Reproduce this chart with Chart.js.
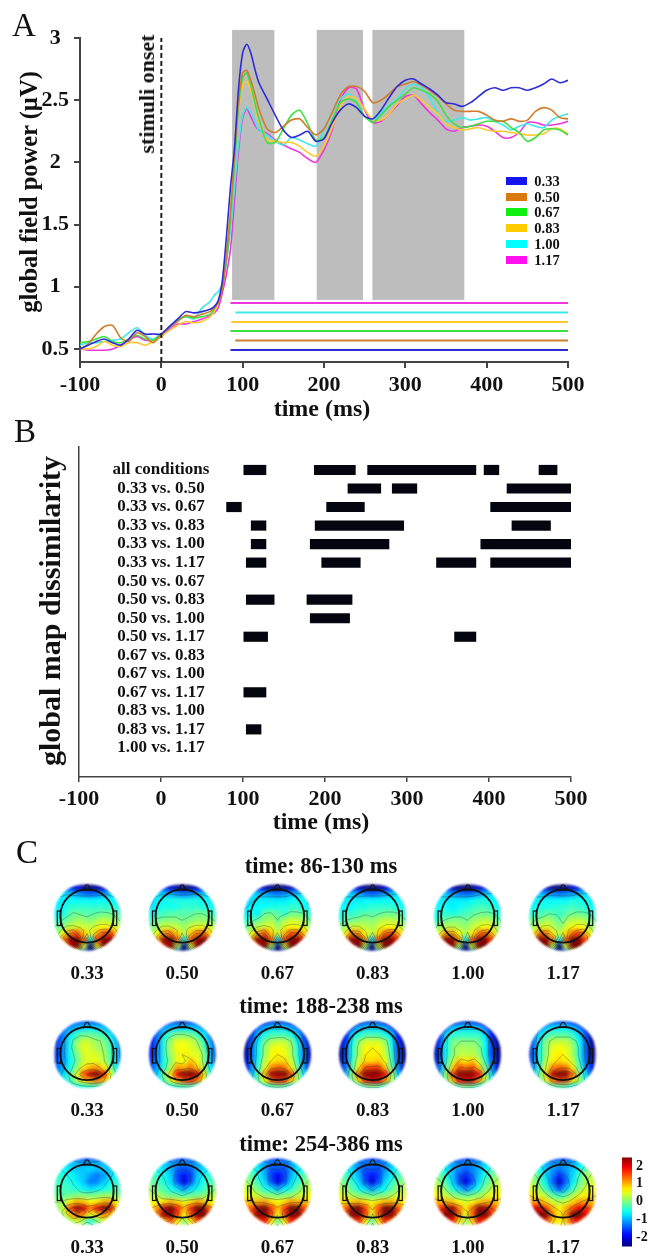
<!DOCTYPE html>
<html>
<head>
<meta charset="utf-8">
<script src="https://cdn.jsdelivr.net/npm/chart.js@4/dist/chart.umd.min.js"></script>
<style>
  html, body { margin: 0; background: #fff; }
  #page { position: relative; width: 654px; height: 1259px; overflow: hidden; font-family: "Liberation Serif", serif; color: #111; }
  #page canvas { position: absolute; }
  #topoHeat { filter: blur(2.2px); }
  .txt { position: absolute; white-space: nowrap; font-weight: bold; transform: translate(-50%, -50%); }
  .swatch { position: absolute; width: 21px; height: 8px; }
</style>
</head>
<body>
<div id="page">
  <canvas id="chartA" width="654" height="420" style="left:0;top:0"></canvas>
  <canvas id="chartB" width="654" height="420" style="left:0;top:420px"></canvas>
  <canvas id="topoHeat" width="654" height="409" style="left:0;top:850px"></canvas>
  <canvas id="topoOver" width="654" height="409" style="left:0;top:850px"></canvas>
  <canvas id="colorBar" width="44" height="114" style="left:610px;top:1145px"></canvas>
</div>
<script>
// panel A, global field power (uV)
const times = [-100,-90,-80,-70,-60,-50,-40,-30,-20,-10,0,10,20,30,40,50,60,65,70,75,80,85,90,95,100,105,110,115,120,130,140,150,160,170,180,190,200,210,220,230,240,250,260,270,280,290,300,310,320,330,340,350,360,370,380,390,400,410,420,430,440,450,460,470,480,490,500];
const gfp033 = [.5,.53,.56,.58,.55,.53,.58,.65,.62,.62,.62,.68,.74,.8,.79,.8,.82,.84,.89,1.05,1.4,1.8,2.12,2.6,2.88,2.95,2.88,2.75,2.64,2.51,2.38,2.26,2.2,2.22,2.25,2.17,2.19,2.32,2.42,2.47,2.44,2.37,2.35,2.42,2.52,2.61,2.66,2.67,2.63,2.59,2.54,2.48,2.47,2.45,2.48,2.53,2.58,2.6,2.58,2.6,2.6,2.58,2.6,2.63,2.67,2.64,2.66];
const gfp050 = [.5,.54,.62,.68,.69,.59,.56,.63,.6,.55,.62,.68,.72,.77,.76,.78,.8,.83,.87,.98,1.25,1.6,2.05,2.5,2.72,2.74,2.66,2.55,2.43,2.27,2.24,2.29,2.34,2.35,2.28,2.22,2.27,2.4,2.54,2.61,2.61,2.57,2.48,2.5,2.55,2.61,2.63,2.65,2.62,2.58,2.53,2.47,2.42,2.41,2.41,2.41,2.38,2.34,2.33,2.35,2.33,2.34,2.41,2.44,2.42,2.36,2.35];
const gfp067 = [.55,.56,.58,.6,.56,.55,.58,.61,.58,.57,.62,.68,.73,.76,.75,.76,.78,.82,.88,1.0,1.2,1.55,2.0,2.45,2.68,2.72,2.62,2.48,2.35,2.16,2.16,2.27,2.38,2.42,2.31,2.18,2.2,2.34,2.48,2.51,2.48,2.37,2.32,2.38,2.45,2.5,2.55,2.6,2.58,2.55,2.49,2.38,2.31,2.28,2.29,2.31,2.33,2.33,2.33,2.28,2.24,2.17,2.2,2.26,2.27,2.26,2.22];
const gfp083 = [.5,.5,.52,.56,.53,.52,.55,.55,.53,.56,.6,.65,.69,.72,.71,.72,.76,.8,.87,1.0,1.25,1.6,2.05,2.42,2.62,2.65,2.58,2.46,2.33,2.18,2.17,2.16,2.16,2.13,2.08,2.05,2.13,2.28,2.45,2.53,2.51,2.43,2.34,2.34,2.39,2.47,2.51,2.54,2.5,2.44,2.39,2.31,2.28,2.26,2.27,2.28,2.26,2.25,2.25,2.24,2.23,2.22,2.22,2.23,2.27,2.27,2.23];
const gfp100 = [.53,.55,.55,.56,.57,.58,.63,.67,.61,.58,.62,.68,.74,.76,.74,.83,.88,.93,.96,1.02,1.2,1.45,1.8,2.15,2.38,2.44,2.4,2.33,2.26,2.22,2.17,2.14,2.2,2.18,2.15,2.13,2.27,2.4,2.51,2.55,2.49,2.37,2.34,2.4,2.46,2.51,2.59,2.63,2.6,2.52,2.4,2.33,2.34,2.36,2.34,2.35,2.36,2.33,2.3,2.26,2.29,2.31,2.29,2.28,2.34,2.37,2.39];
const gfp117 = [.5,.49,.49,.49,.5,.53,.57,.6,.57,.57,.6,.66,.7,.7,.72,.74,.77,.79,.83,.95,1.1,1.3,1.7,2.1,2.36,2.43,2.37,2.3,2.26,2.23,2.18,2.14,2.11,2.08,2.03,2.0,2.1,2.26,2.5,2.6,2.59,2.42,2.32,2.33,2.39,2.46,2.53,2.54,2.47,2.4,2.34,2.27,2.25,2.28,2.29,2.3,2.29,2.25,2.2,2.2,2.24,2.32,2.32,2.3,2.3,2.31,2.33];
const isiLabels = ['0.33','0.50','0.67','0.83','1.00','1.17'];
const gfpSeries = [gfp033, gfp050, gfp067, gfp083, gfp100, gfp117];
const lineColors = ['#2c2cd6','#cf7d2c','#3fe03f','#ffc92e','#3fe8e8','#ee35e0'];
const legendColors = ['#1414ee','#d97a10','#10f010','#ffcc00','#00ffff','#ff10f0'];
const gfpTicks = [0.5, 1, 1.5, 2, 2.5, 3];
const sigStart = [85, 91, 85, 86, 91, 85];       // start of the significance line per condition
const sigLevel = [0.492, 0.568, 0.645, 0.717, 0.793, 0.87];
const grayWindows = [[87, 139], [191, 248], [259.5, 372.5]];

// panel B, significant intervals (ms) per comparison
const comparisons = ['all conditions','0.33 vs. 0.50','0.33 vs. 0.67','0.33 vs. 0.83','0.33 vs. 1.00','0.33 vs. 1.17','0.50 vs. 0.67','0.50 vs. 0.83','0.50 vs. 1.00','0.50 vs. 1.17','0.67 vs. 0.83','0.67 vs. 1.00','0.67 vs. 1.17','0.83 vs. 1.00','0.83 vs. 1.17','1.00 vs. 1.17'];
const intervals = [
  [[101,128],[187,237],[252,384],[394,412],[461,483]],
  [[228,268],[282,312],[422,501]],
  [[80,98],[202,248],[402,501]],
  [[110,128],[188,296],[428,475]],
  [[110,128],[182,278],[390,501]],
  [[104,128],[196,243],[336,384],[402,501]],
  [],
  [[104,138],[178,233]],
  [[182,230]],
  [[101,130],[358,384]],
  [],
  [],
  [[101,128]],
  [],
  [[104,122]],
  []
];

// panel C, scalp maps on an 11x11 grid, values in 0.1 uV
const windowTitles = ['time: 86-130 ms', 'time: 188-238 ms', 'time: 254-386 ms'];
const maps86 = [
  [[-12,-14,-16,-20,-24,-26,-24,-20,-16,-14,-12],[-7,-8,-9,-11,-13,-14,-13,-11,-9,-8,-7],[-7,-7,-6,-6,-6,-6,-6,-6,-6,-7,-7],[-7,-6,-4,-4,-4,-4,-4,-4,-4,-5,-6],[-7,-5,-2,-1,-2,-2,-2,-1,-1,-2,-4],[-4,-2,0,2,1,0,2,3,2,1,-2],[-2,1,4,4,4,3,5,6,6,4,1],[1,6,13,15,9,5,10,15,16,9,4],[3,14,29,33,15,-6,17,34,33,16,5],[-1,7,20,26,4,-28,6,26,28,14,3],[-3,-1,3,4,-14,-30,-14,4,5,3,-1]],
  [[-12,-14,-16,-20,-24,-26,-24,-20,-16,-14,-12],[-8,-8,-9,-10,-12,-13,-12,-10,-9,-8,-8],[-8,-7,-6,-5,-5,-5,-5,-5,-6,-7,-8],[-8,-6,-5,-6,-5,-4,-4,-4,-5,-6,-7],[-7,-4,-3,-2,-2,-2,-2,-1,-1,-2,-5],[-4,-1,0,0,0,-1,0,1,1,0,-2],[-1,2,4,4,3,1,4,5,5,4,1],[1,6,12,13,8,3,9,13,14,8,4],[2,12,27,31,14,-6,15,30,32,15,4],[-1,6,18,24,2,-28,4,24,26,12,3],[-3,-1,3,4,-14,-30,-14,4,4,3,-1]],
  [[-12,-15,-18,-21,-25,-27,-25,-21,-18,-15,-12],[-8,-8,-9,-10,-12,-13,-12,-10,-9,-8,-8],[-9,-8,-7,-7,-7,-7,-7,-6,-5,-6,-8],[-8,-7,-6,-6,-5,-5,-5,-4,-4,-6,-8],[-7,-5,-7,-1,-1,-2,-4,-1,-1,-2,-5],[-4,-3,-1,1,2,-1,2,4,3,2,-2],[-2,1,3,4,5,1,5,6,6,5,1],[0,5,11,15,9,4,10,15,15,9,4],[1,12,27,32,14,-8,16,32,33,16,4],[-2,5,18,26,2,-30,4,26,28,14,3],[-4,-2,1,2,-16,-32,-16,2,3,2,-2]],
  [[-12,-14,-17,-21,-25,-27,-25,-21,-17,-14,-12],[-8,-8,-9,-11,-13,-14,-13,-11,-9,-8,-8],[-8,-7,-7,-7,-6,-6,-6,-6,-6,-6,-7],[-7,-6,-6,-5,-5,-4,-4,-4,-4,-5,-6],[-6,-4,-4,-3,-2,-2,-2,-1,-1,-2,-4],[-4,-2,-1,0,1,0,2,3,3,2,-2],[-1,2,4,4,3,2,4,6,6,5,2],[1,6,13,12,6,3,8,14,16,10,5],[3,14,28,31,12,-8,15,33,35,17,5],[0,8,21,26,2,-30,4,28,30,15,4],[-2,-1,4,5,-14,-32,-14,5,6,4,-1]],
  [[-11,-14,-17,-21,-25,-27,-25,-21,-17,-14,-11],[-7,-8,-9,-11,-13,-14,-13,-11,-9,-8,-7],[-7,-7,-7,-7,-7,-7,-6,-5,-5,-6,-7],[-7,-6,-6,-7,-6,-5,-4,-3,-3,-4,-6],[-6,-5,-4,-5,-4,-3,-2,-1,-1,-2,-5],[-4,-3,-1,0,0,-1,1,2,3,2,-2],[-2,1,3,3,2,1,3,5,6,5,1],[0,5,11,11,6,2,7,13,15,9,3],[2,13,27,30,12,-6,15,32,33,16,4],[-1,7,19,25,2,-28,4,26,28,14,3],[-3,-1,3,4,-14,-30,-14,4,5,3,-1]],
  [[-12,-14,-17,-21,-25,-27,-25,-21,-17,-14,-12],[-8,-8,-9,-11,-12,-13,-12,-11,-9,-8,-8],[-8,-7,-7,-6,-6,-6,-6,-5,-5,-6,-7],[-7,-6,-5,-5,-5,-4,-4,-3,-4,-5,-6],[-6,-4,-3,-2,-2,-4,-2,-1,-1,-2,-5],[-3,-1,0,2,1,-2,1,3,3,2,-2],[-1,2,4,5,3,0,4,6,6,5,1],[1,6,13,13,7,3,8,14,16,9,4],[3,14,28,31,13,-6,15,32,34,16,4],[-1,7,20,25,3,-28,4,25,28,14,3],[-3,-1,3,4,-14,-30,-14,4,5,3,-1]]
];
const maps188 = [
  [[-16,-16,-15,-14,-14,-14,-14,-14,-15,-16,-16],[-16,-13,-11,-9,-8,-7,-8,-9,-11,-13,-16],[-16,-12,-7,-3,-1,-1,-2,-3,-7,-12,-16],[-16,-11,-5,1,4,3,1,0,-4,-10,-16],[-16,-11,-5,2,5,4,2,1,-3,-9,-15],[-16,-11,-5,0,4,5,4,2,-2,-9,-15],[-15,-11,-6,-1,4,5,5,3,-2,-9,-14],[-13,-10,-5,1,7,10,11,7,1,-7,-12],[-11,-8,-2,5,15,21,25,18,6,-5,-10],[-9,-7,-3,3,8,11,13,10,4,-4,-8],[-10,-10,-8,-6,-5,-4,-4,-5,-7,-9,-10]],
  [[-17,-17,-16,-15,-15,-15,-15,-15,-16,-17,-17],[-18,-14,-11,-9,-8,-8,-8,-9,-11,-14,-18],[-18,-13,-6,-2,0,0,-1,-3,-7,-13,-18],[-18,-12,-4,2,5,5,4,1,-4,-11,-17],[-18,-12,-4,3,6,6,5,3,-2,-10,-16],[-18,-12,-4,2,5,7,5,5,0,-9,-16],[-17,-11,-5,1,6,5,9,6,0,-9,-15],[-15,-10,-4,3,11,10,13,9,2,-7,-13],[-13,-8,0,8,19,26,28,21,8,-5,-11],[-10,-7,-2,5,11,15,17,13,5,-4,-9],[-11,-10,-8,-6,-4,-3,-3,-5,-7,-10,-11]],
  [[-22,-21,-19,-17,-15,-15,-15,-17,-19,-21,-22],[-24,-18,-13,-10,-8,-8,-8,-10,-13,-18,-24],[-25,-16,-9,-5,-3,-3,-3,-5,-9,-16,-25],[-25,-15,-7,-1,2,3,3,0,-7,-15,-25],[-25,-14,-6,1,5,6,5,2,-5,-14,-24],[-24,-14,-6,1,6,7,6,2,-5,-14,-24],[-22,-13,-5,3,7,8,8,4,-4,-13,-22],[-19,-12,-4,5,12,14,13,7,-2,-11,-19],[-16,-10,-1,10,23,28,27,15,1,-8,-15],[-12,-8,-2,6,14,17,16,9,2,-6,-11],[-13,-11,-8,-6,-3,-2,-3,-6,-8,-11,-13]],
  [[-25,-23,-20,-17,-15,-15,-15,-17,-20,-23,-25],[-26,-20,-14,-10,-8,-8,-8,-10,-14,-20,-26],[-27,-18,-8,-5,-3,-3,-3,-5,-8,-18,-27],[-27,-17,-6,0,4,4,4,1,-6,-17,-27],[-27,-16,-5,2,6,7,6,3,-5,-16,-27],[-26,-16,-5,2,7,7,7,4,-4,-15,-26],[-24,-15,-4,4,8,8,9,6,-3,-14,-24],[-21,-13,-3,7,15,16,16,9,-1,-12,-21],[-18,-11,1,14,27,31,30,19,3,-9,-17],[-14,-9,-1,8,17,21,20,12,3,-7,-13],[-15,-12,-8,-5,-2,-1,-2,-5,-8,-12,-15]],
  [[-25,-23,-20,-17,-15,-15,-15,-17,-20,-23,-25],[-26,-20,-13,-9,-8,-8,-8,-9,-13,-20,-26],[-27,-18,-8,-4,-4,-4,-4,-4,-8,-18,-27],[-27,-17,-6,-1,0,0,0,-1,-6,-17,-27],[-27,-16,-6,0,2,2,2,0,-6,-16,-27],[-26,-16,-6,0,3,3,3,1,-6,-16,-26],[-24,-15,-5,3,9,7,9,4,-4,-14,-24],[-21,-13,-3,8,15,13,15,9,-1,-12,-21],[-18,-11,1,15,27,30,29,19,3,-9,-17],[-14,-9,-1,9,18,21,20,12,3,-7,-13],[-15,-12,-8,-5,-2,-1,-2,-5,-8,-12,-15]],
  [[-21,-20,-18,-16,-14,-14,-14,-16,-18,-20,-21],[-23,-17,-12,-9,-7,-7,-7,-9,-12,-17,-23],[-24,-15,-8,-4,-2,-2,-2,-4,-8,-15,-24],[-24,-14,-6,0,3,3,3,0,-6,-14,-24],[-24,-14,-5,1,5,6,5,2,-5,-14,-24],[-23,-14,-5,1,6,7,6,2,-5,-14,-23],[-21,-13,-5,3,7,8,7,4,-4,-13,-21],[-19,-12,-4,5,12,14,13,7,-2,-11,-18],[-16,-10,-1,9,22,28,27,14,1,-8,-15],[-12,-8,-2,5,13,16,15,8,2,-6,-11],[-13,-11,-8,-6,-3,-2,-3,-6,-8,-11,-13]]
];
const maps254 = [
  [[-10,-12,-14,-16,-18,-19,-18,-16,-14,-12,-10],[-7,-8,-9,-10,-11,-10,-11,-10,-9,-8,-7],[-6,-6,-8,-9,-9,-8,-9,-9,-9,-7,-6],[-4,-5,-6,-8,-9,-11,-13,-11,-8,-6,-4],[-3,-4,-5,-7,-9,-13,-12,-9,-6,-4,-3],[-2,-3,-4,-5,-7,-8,-7,-6,-4,-3,-2],[-1,-2,-1,0,0,-1,0,1,1,0,-1],[1,2,7,10,9,6,7,10,11,6,1],[1,4,16,24,21,13,19,27,22,9,2],[0,3,9,14,11,5,8,12,10,5,0],[-2,0,2,4,1,-5,0,4,3,0,-2]],
  [[-9,-12,-14,-16,-18,-18,-18,-16,-14,-12,-9],[-6,-8,-9,-11,-12,-12,-12,-11,-9,-8,-6],[-5,-6,-8,-10,-14,-15,-14,-10,-8,-6,-5],[-3,-4,-6,-9,-16,-18,-16,-9,-6,-4,-3],[-1,-3,-5,-8,-15,-21,-15,-8,-5,-3,-1],[1,-1,-3,-6,-8,-12,-8,-6,-3,-1,1],[3,2,0,-1,-2,-3,-2,-1,0,2,3],[6,6,8,10,8,5,8,11,9,6,5],[8,12,21,26,17,10,17,27,23,13,8],[8,14,24,27,16,6,15,29,28,15,7],[4,8,11,14,7,0,7,15,13,8,4]],
  [[-8,-11,-14,-16,-18,-18,-18,-16,-14,-11,-8],[-4,-7,-9,-11,-13,-12,-13,-11,-9,-7,-4],[-2,-4,-7,-11,-15,-15,-15,-11,-7,-4,-2],[0,-2,-6,-10,-16,-19,-16,-10,-6,-2,0],[2,0,-4,-8,-15,-21,-15,-8,-4,0,2],[4,2,-1,-5,-7,-11,-7,-5,-1,2,4],[6,5,3,1,0,-1,0,1,3,5,6],[9,9,10,11,8,6,8,11,10,9,8],[11,15,23,27,16,9,16,28,25,15,10],[11,16,27,30,16,5,16,32,30,16,10],[6,10,15,18,7,-1,7,18,15,10,6]],
  [[-9,-12,-15,-17,-19,-19,-19,-17,-15,-12,-9],[-5,-8,-10,-12,-13,-12,-13,-12,-10,-8,-5],[-3,-5,-8,-12,-15,-15,-15,-12,-8,-5,-3],[-1,-3,-7,-10,-16,-18,-16,-10,-7,-3,-1],[1,-1,-4,-8,-15,-21,-15,-8,-4,-1,1],[3,1,-2,-6,-8,-12,-8,-6,-2,1,3],[5,4,2,0,-1,-2,-1,0,2,4,5],[8,8,9,10,8,5,8,10,10,8,7],[10,14,23,26,16,8,15,27,25,15,9],[10,15,26,29,16,4,15,31,29,15,9],[5,9,14,17,7,-2,7,17,14,9,5]],
  [[-7,-10,-13,-16,-18,-18,-18,-16,-13,-10,-7],[-3,-6,-9,-11,-13,-12,-13,-11,-9,-6,-3],[-1,-3,-7,-10,-12,-14,-12,-10,-7,-3,-1],[1,-1,-5,-9,-15,-17,-14,-9,-5,-1,1],[3,1,-3,-8,-15,-21,-15,-8,-3,1,3],[5,3,0,-5,-9,-13,-9,-5,0,3,5],[7,6,3,1,-1,-2,-1,1,3,6,7],[10,10,10,9,6,4,6,9,10,10,9],[12,16,22,23,13,7,13,24,23,16,11],[12,17,27,28,14,5,14,29,28,16,11],[7,11,16,18,8,1,8,18,15,11,7]],
  [[-8,-11,-14,-16,-18,-18,-18,-16,-14,-11,-8],[-2,-5,-8,-11,-12,-11,-12,-11,-8,-5,-2],[1,-2,-6,-9,-11,-13,-11,-9,-6,-2,1],[3,1,-3,-8,-13,-17,-13,-8,-3,1,3],[4,2,-2,-7,-14,-21,-14,-7,-2,2,4],[6,4,1,-4,-10,-15,-10,-4,1,4,6],[8,7,5,2,-2,-4,-2,2,5,7,8],[11,11,11,8,4,2,4,8,11,11,10],[13,19,21,16,10,6,10,15,20,18,12],[13,20,29,25,12,7,12,25,28,19,12],[8,13,19,16,9,6,9,16,18,12,8]]
];
const contourLevels = [-1.4, -0.7, 0, 0.7, 1.4, 2.1];
const barTicks = [-2, -1, 0, 1, 2];
const barRange = [-2.53, 2.48];

const topoWindows = [maps86, maps188, maps254];
const page = document.getElementById('page');
const axisColor = '#444';
const boldFont = size => ({ family: '"Liberation Serif", serif', weight: 'bold', size: size });

function addText(text, x, y, size, rotate, weight) {
  const el = document.createElement('div');
  el.className = 'txt';
  el.textContent = text;
  el.style.left = x + 'px';
  el.style.top = y + 'px';
  el.style.fontSize = size + 'px';
  if (weight) el.style.fontWeight = weight;
  if (rotate) el.style.transform = 'translate(-50%, -50%) rotate(' + rotate + 'deg)';
  page.appendChild(el);
}

function clamp01(v) { return Math.max(0, Math.min(1, v)); }
function jet(v) {
  const t = clamp01((v + 2.5) / 5);
  const r = clamp01(1.5 - Math.abs(4 * t - 3));
  const g = clamp01(1.5 - Math.abs(4 * t - 2));
  const b = clamp01(1.5 - Math.abs(4 * t - 1));
  return `rgb(${Math.round(r * 255)},${Math.round(g * 255)},${Math.round(b * 255)})`;
}

// ---- panel A
const grayBands = {
  id: 'grayBands',
  beforeDatasetsDraw(chart) {
    const { ctx, scales: { x, y } } = chart;
    ctx.save();
    ctx.fillStyle = '#bdbdbd';
    grayWindows.forEach(([a, b]) => {
      const top = y.getPixelForValue(3.065);
      ctx.fillRect(x.getPixelForValue(a), top, x.getPixelForValue(b) - x.getPixelForValue(a), y.getPixelForValue(0.894) - top);
    });
    ctx.restore();
  }
};

const gfpDatasets = gfpSeries.map((values, i) => ({
  label: isiLabels[i],
  data: values.map((v, k) => ({ x: times[k], y: v })),
  borderColor: lineColors[i],
  borderWidth: 1.6,
  pointRadius: 0,
  tension: 0.25
}));
const sigDatasets = sigLevel.map((v, i) => ({
  data: [{ x: sigStart[i], y: v }, { x: 500, y: v }],
  borderColor: lineColors[i],
  borderWidth: 2,
  pointRadius: 0
}));
const onsetDataset = {
  data: [{ x: 0, y: 0.395 }, { x: 0, y: 3 }],
  borderColor: '#222',
  borderWidth: 2,
  borderDash: [5, 3],
  pointRadius: 0
};

new Chart(document.getElementById('chartA'), {
  type: 'line',
  data: { datasets: [onsetDataset, ...gfpDatasets, ...sigDatasets] },
  plugins: [grayBands],
  options: {
    responsive: false,
    animation: false,
    layout: { padding: { top: 38, right: 86, left: 0, bottom: 0 } },
    plugins: { legend: { display: false }, tooltip: { enabled: false } },
    scales: {
      x: {
        type: 'linear', min: -100, max: 500,
        afterFit: s => { s.height = 58; },
        border: { color: axisColor, width: 2 },
        grid: { drawOnChartArea: false, color: axisColor, lineWidth: 2, tickLength: 6 },
        ticks: { stepSize: 100, color: '#111', font: boldFont(22), padding: 4, maxRotation: 0 }
      },
      y: {
        min: 0.395, max: 3,
        afterFit: s => { s.width = 80; },
        afterBuildTicks: s => { s.ticks = gfpTicks.map(v => ({ value: v })); },
        border: { color: axisColor, width: 2 },
        grid: { drawOnChartArea: false, color: axisColor, lineWidth: 2, tickLength: 6 },
        ticks: { color: '#111', font: boldFont(22), padding: 5, crossAlign: 'center', callback: v => String(v) }
      }
    }
  }
});

addText('A', 24, 25, 33, 0, 'normal');
addText('global field power (\u00b5V)', 29, 192, 24.5, -90);
addText('stimuli onset', 147, 94, 22, -90);
addText('time (ms)', 322, 408, 24);
isiLabels.forEach((label, i) => {
  const y = 181 + i * 15.7;
  const sw = document.createElement('div');
  sw.className = 'swatch';
  sw.style.left = '506px';
  sw.style.top = (y - 4) + 'px';
  sw.style.background = legendColors[i];
  page.appendChild(sw);
  addText(label, 547, y, 14.5);
});

// ---- panel B
const rowLabels = {
  id: 'rowLabels',
  afterDatasetsDraw(chart) {
    const { ctx, scales: { x, y } } = chart;
    ctx.save();
    ctx.font = 'bold 17px "Liberation Serif", serif';
    ctx.fillStyle = '#111';
    ctx.textAlign = 'center';
    ctx.textBaseline = 'middle';
    comparisons.forEach((label, i) => ctx.fillText(label, x.getPixelForValue(0), y.getPixelForValue(i)));
    ctx.restore();
  }
};

new Chart(document.getElementById('chartB'), {
  type: 'bar',
  data: {
    datasets: [{
      data: intervals.flatMap((row, i) => row.map(span => ({ x: span, y: i }))),
      backgroundColor: '#05050f',
      barThickness: 9.5
    }]
  },
  plugins: [rowLabels],
  options: {
    indexAxis: 'y',
    responsive: false,
    animation: false,
    layout: { padding: { top: 27, right: 83, left: 0, bottom: 0 } },
    plugins: { legend: { display: false }, tooltip: { enabled: false } },
    scales: {
      x: {
        type: 'linear', min: -100, max: 500,
        afterFit: s => { s.height = 63; },
        border: { color: axisColor, width: 1.5 },
        grid: { drawOnChartArea: false, color: axisColor, lineWidth: 1.5, tickLength: 5 },
        ticks: { stepSize: 100, color: '#111', font: boldFont(22), padding: 4, maxRotation: 0 }
      },
      y: {
        type: 'linear', reverse: true, offset: false, min: -1.24, max: 16.57,
        afterFit: s => { s.width = 79; },
        border: { color: axisColor, width: 1.5 },
        grid: { display: false },
        ticks: { display: false }
      }
    }
  }
});

addText('B', 25, 431, 33, 0, 'normal');
addText('global map dissimilarity', 50, 611, 30, -90);
addText('time (ms)', 321, 821, 24);

// ---- panel C
const cellPx = 6.7;
const stepX = 95.2 / cellPx;    // grid units between maps in a row
const stepY = 137.5 / cellPx;   // grid units between rows of maps
const topoScales = {
  x: { type: 'linear', display: false, min: 5 - 87 / cellPx, max: 5 - 87 / cellPx + 654 / cellPx },
  y: { type: 'linear', display: false, reverse: true, min: 5 - 67 / cellPx, max: 5 - 67 / cellPx + 409 / cellPx }
};

const heatDatasets = topoWindows.flatMap((maps, w) => maps.map((grid, m) => ({
  label: windowTitles[w] + ' ' + isiLabels[m],
  data: grid.flatMap((row, r) => row.map((v, c) => ({ x: m * stepX + c, y: w * stepY + r, v: v / 10 }))),
  backgroundColor: ctx => (ctx.raw ? jet(ctx.raw.v) : '#fff'),
  pointStyle: 'rect',
  pointRadius: cellPx * 1.03 / Math.SQRT2,
  pointBorderWidth: 0
})));

new Chart(document.getElementById('topoHeat'), {
  type: 'scatter',
  data: { datasets: heatDatasets },
  options: {
    responsive: false,
    animation: false,
    plugins: { legend: { display: false }, tooltip: { enabled: false } },
    scales: topoScales
  }
});

function contourSegments(grid, level) {
  const segs = [];
  for (let r = 0; r < grid.length - 1; r++) {
    for (let c = 0; c < grid[r].length - 1; c++) {
      const corners = [[r, c], [r, c + 1], [r + 1, c + 1], [r + 1, c]];
      const pts = [];
      for (let k = 0; k < 4; k++) {
        const a = corners[k], b = corners[(k + 1) % 4];
        const va = grid[a[0]][a[1]] / 10, vb = grid[b[0]][b[1]] / 10;
        if ((va >= level) !== (vb >= level)) {
          const f = (level - va) / (vb - va);
          pts.push([a[1] + f * (b[1] - a[1]), a[0] + f * (b[0] - a[0])]);
        }
      }
      for (let k = 0; k + 1 < pts.length; k += 2) segs.push([pts[k], pts[k + 1]]);
    }
  }
  return segs;
}

const headOverlay = {
  id: 'headOverlay',
  afterDraw(chart) {
    const { ctx, scales: { x, y } } = chart;
    const R = 33.7;
    const centers = [];
    topoWindows.forEach((maps, w) => maps.forEach((grid, m) => {
      centers.push({ w, m, grid, cx: x.getPixelForValue(m * stepX + 5), cy: y.getPixelForValue(w * stepY + 5) });
    }));

    // white out everything round the scalp discs
    ctx.save();
    ctx.filter = 'blur(0.8px)';
    ctx.fillStyle = '#fff';
    ctx.beginPath();
    ctx.rect(-5, -5, chart.width + 10, chart.height + 10);
    centers.forEach(({ cx, cy }) => { ctx.moveTo(cx + R, cy); ctx.arc(cx, cy, R, 0, Math.PI * 2); });
    ctx.fill('evenodd');
    ctx.restore();

    centers.forEach(({ w, m, grid, cx, cy }) => {
      ctx.save();
      ctx.beginPath();
      ctx.arc(cx, cy, R, 0, Math.PI * 2);
      ctx.clip();
      ctx.strokeStyle = 'rgba(35,60,55,0.5)';
      ctx.lineWidth = 0.7;
      ctx.beginPath();
      contourLevels.forEach(level => contourSegments(grid, level).forEach(([p, q]) => {
        ctx.moveTo(x.getPixelForValue(m * stepX + p[0]), y.getPixelForValue(w * stepY + p[1]));
        ctx.lineTo(x.getPixelForValue(m * stepX + q[0]), y.getPixelForValue(w * stepY + q[1]));
      }));
      ctx.stroke();
      ctx.restore();

      // head, nose, ears
      ctx.save();
      ctx.strokeStyle = '#111';
      ctx.lineWidth = 1.8;
      ctx.beginPath();
      ctx.arc(cx, cy - 1, 26.7, 0, Math.PI * 2);
      ctx.stroke();
      ctx.lineWidth = 1.2;
      ctx.beginPath();
      ctx.moveTo(cx - 4, cy - 27);
      ctx.lineTo(cx - 1, cy - 32);
      ctx.lineTo(cx + 1, cy - 32);
      ctx.lineTo(cx + 4, cy - 27);
      ctx.closePath();
      ctx.stroke();
      [-1, 1].forEach(side => {
        ctx.strokeRect(side < 0 ? cx - 29.7 : cx + 26.3, cy - 6, 3.4, 14.5);
      });
      ctx.restore();
    });
  }
};

new Chart(document.getElementById('topoOver'), {
  type: 'scatter',
  data: { datasets: [] },
  plugins: [headOverlay],
  options: {
    responsive: false,
    animation: false,
    plugins: { legend: { display: false }, tooltip: { enabled: false } },
    scales: topoScales
  }
});

addText('C', 27, 852, 33, 0, 'normal');
const titleY = [866, 1006, 1144];
const mapLabelY = [973, 1110, 1247];
windowTitles.forEach((title, w) => {
  addText(title, 321, titleY[w], 22.5);
  isiLabels.forEach((label, m) => addText(label, 87 + m * 95.2, mapLabelY[w], 19));
});

// ---- colour bar
new Chart(document.getElementById('colorBar'), {
  type: 'bar',
  data: {
    labels: [''],
    datasets: [{
      data: [barRange],
      barPercentage: 1,
      categoryPercentage: 1,
      backgroundColor: ctx => {
        const { chartArea, scales } = ctx.chart;
        if (!chartArea) return '#888';
        const grad = ctx.chart.ctx.createLinearGradient(0, scales.y.getPixelForValue(barRange[0]), 0, scales.y.getPixelForValue(barRange[1]));
        for (let i = 0; i <= 20; i++) grad.addColorStop(i / 20, jet(barRange[0] + (barRange[1] - barRange[0]) * i / 20));
        return grad;
      }
    }]
  },
  options: {
    responsive: false,
    animation: false,
    layout: { padding: { top: 8, left: 12, right: 0, bottom: 2 } },
    plugins: { legend: { display: false }, tooltip: { enabled: false } },
    scales: {
      x: { display: false },
      y: {
        position: 'right',
        min: barRange[0], max: barRange[1],
        afterFit: s => { s.width = 22; },
        afterBuildTicks: s => { s.ticks = barTicks.map(v => ({ value: v })); },
        border: { display: false },
        grid: { display: false, drawTicks: false },
        ticks: { color: '#111', font: boldFont(14), padding: 4, callback: v => String(v) }
      }
    }
  }
});
</script>
</body>
</html>
